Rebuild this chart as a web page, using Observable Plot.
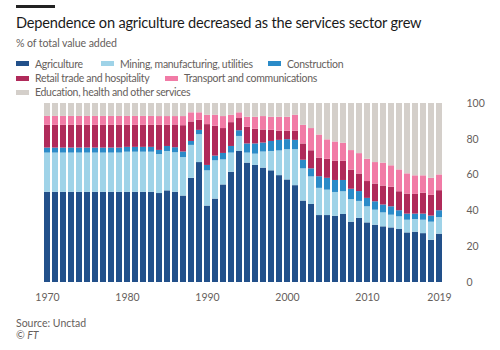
<!DOCTYPE html>
<html><head><meta charset="utf-8">
<script src="https://cdn.jsdelivr.net/npm/d3@7"></script>
<script src="https://cdn.jsdelivr.net/npm/@observablehq/plot@0.6"></script>
<style>
body{margin:0;background:#fff;font-family:Lato,"Open Sans",sans-serif;}
#wrap{position:relative;width:500px;height:350px;overflow:hidden;background:#fff;}
.abs{position:absolute;white-space:nowrap;}
#topbar{left:16px;top:5px;width:39px;height:3px;background:#222;}
#title{left:16px;top:13px;font-size:14.6px;letter-spacing:-0.2px;line-height:20px;color:#1a1a1a;}
#subtitle{left:16px;top:36px;font-size:10.6px;letter-spacing:-0.1px;line-height:14px;color:#66605c;}
.leg{font-size:10.5px;letter-spacing:-0.3px;line-height:14px;color:#66605c;}
.sw{position:absolute;width:13px;height:5px;}
#chart{left:0;top:95px;}
.foot{left:16px;font-size:10.5px;line-height:13px;color:#66605c;}
</style></head><body>
<div id="wrap">
<div id="topbar" class="abs"></div>
<div id="title" class="abs">Dependence on agriculture decreased as the services sector grew</div>
<div id="subtitle" class="abs">% of total value added</div>
<div id="legend"></div>
<div id="chart" class="abs"></div>
<div class="abs foot" style="top:317px">Source: Unctad</div>
<div class="abs foot" style="top:329px;font-style:italic">© FT</div>
</div>
<script>
const years = [1970,1971,1972,1973,1974,1975,1976,1977,1978,1979,
1980,1981,1982,1983,1984,1985,1986,1987,1988,1989,
1990,1991,1992,1993,1994,1995,1996,1997,1998,1999,
2000,2001,2002,2003,2004,2005,2006,2007,2008,2009,
2010,2011,2012,2013,2014,2015,2016,2017,2018,2019];

const sectors = ["Agriculture","Mining, manufacturing, utilities","Construction",
  "Retail trade and hospitality","Transport and communications","Education, health and other services"];
const colors = ["#22508a","#9fd3e8","#2b8bc8","#b02a5a","#f17ba6","#d4cfca"];

const agriculture = [50.4,50.4,50.4,50.4,50.4,50.4,50.4,50.4,50.4,50.4,
50.4,50.4,50.4,50.4,49.7,51.2,50.4,48.3,58.2,67.0,
42.7,46.6,54.5,61.6,73.2,66.7,65.4,63.9,62.4,59.7,
57.3,54.1,45.5,43.6,37.4,37.4,37.0,38.0,33.7,35.8,
33.3,32.0,31.1,30.5,29.6,27.7,28.1,27.3,23.6,27.0];
const mining = [21.9,21.9,21.9,21.9,21.9,21.9,21.9,21.9,21.9,21.9,
22.4,22.4,22.4,22.4,21.8,22.0,22.1,21.5,18.4,15.6,
19.7,21.4,14.0,10.7,8.4,5.6,6.3,9.0,10.8,13.8,
16.9,20.1,18.0,15.4,15.2,14.2,13.3,12.7,12.6,9.5,
9.0,8.4,7.8,7.1,7.1,7.1,7.1,7.5,10.1,9.3];
const construction = [2.8,2.8,2.8,2.8,2.8,2.8,2.8,2.8,2.8,2.8,
2.7,2.7,2.7,2.7,2.3,2.8,2.8,3.1,2.2,2.4,
3.0,2.6,3.6,3.7,3.2,5.1,5.7,5.0,5.6,5.9,
5.6,5.2,4.8,4.5,6.5,6.6,6.7,6.3,5.8,5.5,
4.7,4.7,4.4,4.7,3.4,3.4,3.0,3.4,3.4,3.8];
const retail = [12.7,12.7,12.7,12.7,12.7,12.7,12.7,12.7,12.7,12.7,
12.3,12.3,12.3,12.3,14.0,11.8,12.7,14.7,10.9,5.6,
22.8,16.7,13.9,13.3,6.8,9.3,8.2,7.3,6.2,5.1,
4.7,5.1,9.1,10.1,10.4,10.6,10.8,10.8,10.7,9.8,
9.4,9.9,10.6,10.9,10.6,11.2,11.0,11.7,11.6,11.2];
const transport = [5.0,5.0,5.0,5.0,5.0,5.0,5.0,5.0,5.0,5.0,
5.0,5.0,5.0,5.0,4.9,4.9,4.7,5.1,5.1,4.2,
5.2,6.1,6.7,4.1,3.2,5.6,6.7,7.5,7.3,7.8,
7.8,8.9,10.4,12.4,12.9,10.9,10.7,10.0,10.9,11.4,
12.5,12.0,12.8,12.0,12.2,11.3,10.4,9.7,9.5,8.8];
const education = [7.2,7.2,7.2,7.2,7.2,7.2,7.2,7.2,7.2,7.2,
7.2,7.2,7.2,7.2,7.3,7.3,7.3,7.3,5.2,5.2,
6.6,6.6,7.3,6.6,5.2,7.7,7.7,7.3,7.7,7.7,
7.7,6.6,12.2,14.0,17.6,20.3,21.5,22.2,26.3,28.0,
31.1,33.0,33.3,34.8,37.1,39.3,40.4,40.4,41.8,39.9];

const xTicks = [1970,1980,1990,2000,2010,2019];
const yTicks = [0,20,40,60,80,100];

const series = [agriculture,mining,construction,retail,transport,education];
const data = [];
years.forEach((yr,i)=>{
  sectors.forEach((s,j)=>{ data.push({year:yr, sector:s, value:series[j][i]}); });
});

// legend
const legendItems = [
  {s:0,x:16,y:56.7},{s:1,x:101,y:56.7},{s:2,x:268,y:56.7},
  {s:3,x:16,y:71.3},{s:4,x:165,y:71.3},
  {s:5,x:16,y:85.3}
];
const leg = document.getElementById("legend");
legendItems.forEach(it=>{
  const sw = document.createElement("div");
  sw.className="sw";
  sw.style.left = it.x+"px"; sw.style.top = (it.y+4.5)+"px";
  sw.style.background = colors[it.s];
  leg.appendChild(sw);
  const t = document.createElement("div");
  t.className="abs leg";
  t.style.left=(it.x+19)+"px"; t.style.top=it.y+"px";
  t.textContent = sectors[it.s];
  leg.appendChild(t);
});

const chart = Plot.plot({
  width: 500,
  height: 215,
  marginTop: 8,
  marginBottom: 28,
  marginLeft: 29,
  marginRight: 43,
  style: {fontFamily:"Lato, 'Open Sans', sans-serif", fontSize:"10.5px", color:"#66605c", background:"transparent"},
  x: {type:"band", domain: years, paddingInner:0.2, paddingOuter:0.1, label:null},
  y: {domain:[0,100], label:null},
  color: {domain: sectors, range: colors},
  marks: [
    Plot.barY(data, {x:"year", y:"value", fill:"sector", z:"sector", order: sectors}),
    Plot.axisX({ticks: xTicks, tickSize:0, tickPadding:11, tickFormat: d=>String(d), label:null}),
    Plot.axisY({anchor:"right", ticks: yTicks, tickSize:0, tickPadding:9, label:null, textAnchor:"start"})
  ]
});
document.getElementById("chart").appendChild(chart);
</script>
</body></html>
